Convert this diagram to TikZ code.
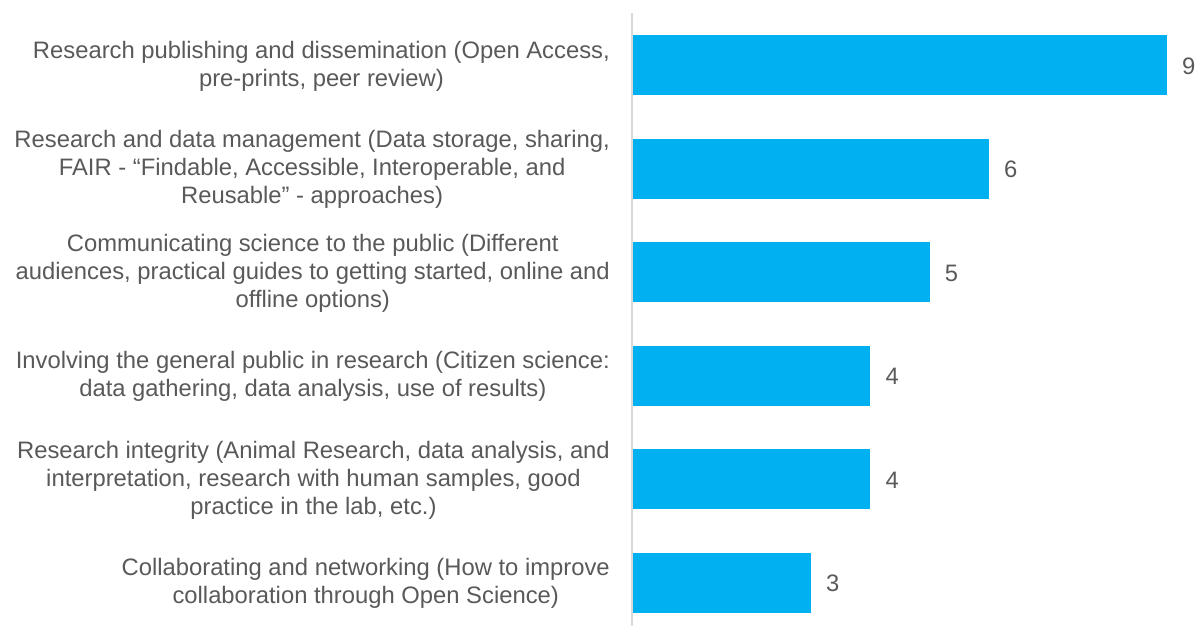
\documentclass[tikz,border=0pt]{standalone}
\usepackage{fontspec}
\setmainfont{Liberation Sans}
\definecolor{barblue}{HTML}{00B0F0}
\definecolor{txtgray}{HTML}{595959}
\definecolor{axisgray}{HTML}{D9D9D9}
\begin{document}
\begin{tikzpicture}[x=1pt,y=-1pt,
  bar/.style={fill=barblue,draw=none},
  cat/.style={anchor=east,align=center,text=txtgray,font=\fontsize{23.8}{28}\selectfont,inner sep=0pt},
  val/.style={anchor=west,text=txtgray,font=\fontsize{23.8}{28}\selectfont,inner sep=0pt}]
\useasboundingbox (0,0) rectangle (1196,626);
\def\u{59.33}
\foreach \v/\yc/\t [count=\i] in {
 9/65/{Research publishing and dissemination (Open Access,\\pre-prints, peer review)},
 6/168.5/{Research and data management (Data storage, sharing,\\FAIR - “Findable, Accessible, Interoperable, and\\Reusable” - approaches)},
 5/272/{Communicating science to the public (Different\\audiences, practical guides to getting started, online and\\offline options)},
 4/375.5/{Involving the general public in research (Citizen science:\\data gathering, data analysis, use of results)},
 4/479/{Research integrity (Animal Research, data analysis, and\\interpretation, research with human samples, good\\practice in the lab, etc.)},
 3/582.5/{Collaborating and networking (How to improve\\collaboration through Open Science)}}{
  \path[bar] (633,\yc-30) rectangle ({633+\v*\u},\yc+30);
  \node[val] (v\i) at ({633+\v*\u+15},\yc+1) {\v};
  \node[cat] (c\i) at (610,\yc+1) {\t};
}
\draw[axisgray,line width=1.5pt] (632,13) -- (632,626);
\end{tikzpicture}
\end{document}
